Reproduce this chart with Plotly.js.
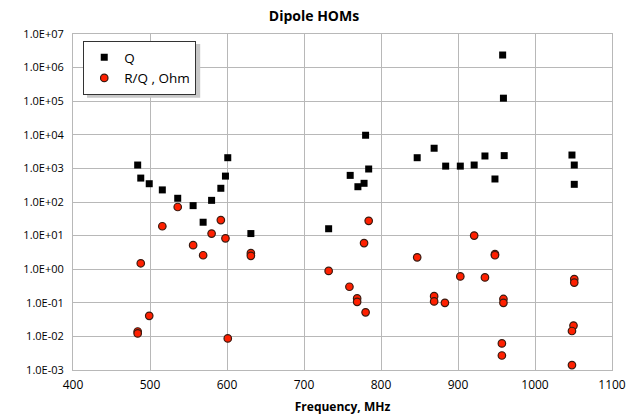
<!DOCTYPE html>
<html><head><meta charset="utf-8">
<script src="https://cdn.plot.ly/plotly-3.0.1.min.js"></script>
<style>body{margin:0;background:#fff}#c{width:628px;height:415px}</style>
</head><body><div id="c"></div>
<script>
// Q values
const qFreq = [484,488,499,516,536,556,569,580,592,598,601,631,
  732,760,770,778,780,784,
  847,869,884,903,921,935,948,958,959,960,
  1048,1051,1051];
const qVal = [1260,515,350,229,129,78,25,112,256,590,2080,11.5,
  16,620,285,360,9700,960,
  2080,3980,1170,1170,1260,2340,484,2370000,123000,2400,
  2500,1260,336];
// R/Q values (Ohm)
const rqFreq = [484,484,488,499,516,536,556,569,580,592,598,601,631,631,
  732,759,769,769,778,780,784,
  847,869,869,883,903,921,935,948,948,957,957,959,959,
  1050,1048,1048,1051,1051];
const rqVal = [0.014,0.0123,1.5,0.041,19,71,5.2,2.6,11.5,29,8.3,0.0087,3.0,2.5,
  0.89,0.30,0.135,0.107,6.0,0.052,27.5,
  2.25,0.158,0.11,0.10,0.61,10,0.57,2.8,2.6,0.0062,0.0027,0.13,0.10,
  0.021,0.0145,0.0014,0.51,0.40];
const yTickVals = [1e-3,1e-2,1e-1,1,10,100,1e3,1e4,1e5,1e6,1e7];
const yTickText = ['1.0E-03','1.0E-02','1.0E-01','1.0E+00','1.0E+01','1.0E+02','1.0E+03','1.0E+04','1.0E+05','1.0E+06','1.0E+07'];
const xTickVals = [400,500,600,700,800,900,1000,1100];

const font = 'Open Sans, Liberation Sans, sans-serif';
const data = [
  {x:qFreq, y:qVal, name:'Q', type:'scatter', mode:'markers',
   marker:{symbol:'square', size:7, color:'#000000'}},
  {x:rqFreq, y:rqVal, name:'R/Q , Ohm', type:'scatter', mode:'markers',
   marker:{symbol:'circle', size:7.5, color:'#ff2000', line:{color:'#3a1a10', width:1.2}}}
];
const layout = {
  width:628, height:415,
  margin:{l:73, r:16, t:34, b:45},
  paper_bgcolor:'#fff', plot_bgcolor:'#fff',
  font:{family:font, size:12, color:'#000'},
  title:{text:'<b>Dipole HOMs</b>', font:{size:14, family:font}, x:0.5, xanchor:'center', y:0.962, yanchor:'middle'},
  xaxis:{range:[400,1100], tickvals:xTickVals, showgrid:true, gridcolor:'#b8b8b8', gridwidth:1,
    showline:true, linecolor:'#b8b8b8', mirror:true, zeroline:false, ticks:'', ticklabelstandoff:4,
    tickfont:{size:12},
    title:{text:'<b>Frequency, MHz</b>', font:{size:12}, standoff:12}},
  yaxis:{type:'log', range:[-3,7], tickvals:yTickVals, ticktext:yTickText, showgrid:true, gridcolor:'#b8b8b8', gridwidth:1,
    showline:true, linecolor:'#b8b8b8', mirror:true, zeroline:false, ticks:'', ticklabelstandoff:6,
    tickfont:{size:11}},
  showlegend:true,
  legend:{x:0.019, y:0.979, xanchor:'left', yanchor:'top', bgcolor:'#fff', bordercolor:'#333', borderwidth:1,
    font:{size:13.5}, itemsizing:'trace', itemwidth:30, tracegroupgap:0},
  shapes:[{type:'rect', xref:'paper', yref:'paper', x0:0.026, x1:0.236, y0:0.81, y1:0.97,
    fillcolor:'#c8c8c8', line:{width:0}, layer:'above'}]
};
Plotly.newPlot('c', data, layout, {displayModeBar:false, staticPlot:true});
</script></body></html>
